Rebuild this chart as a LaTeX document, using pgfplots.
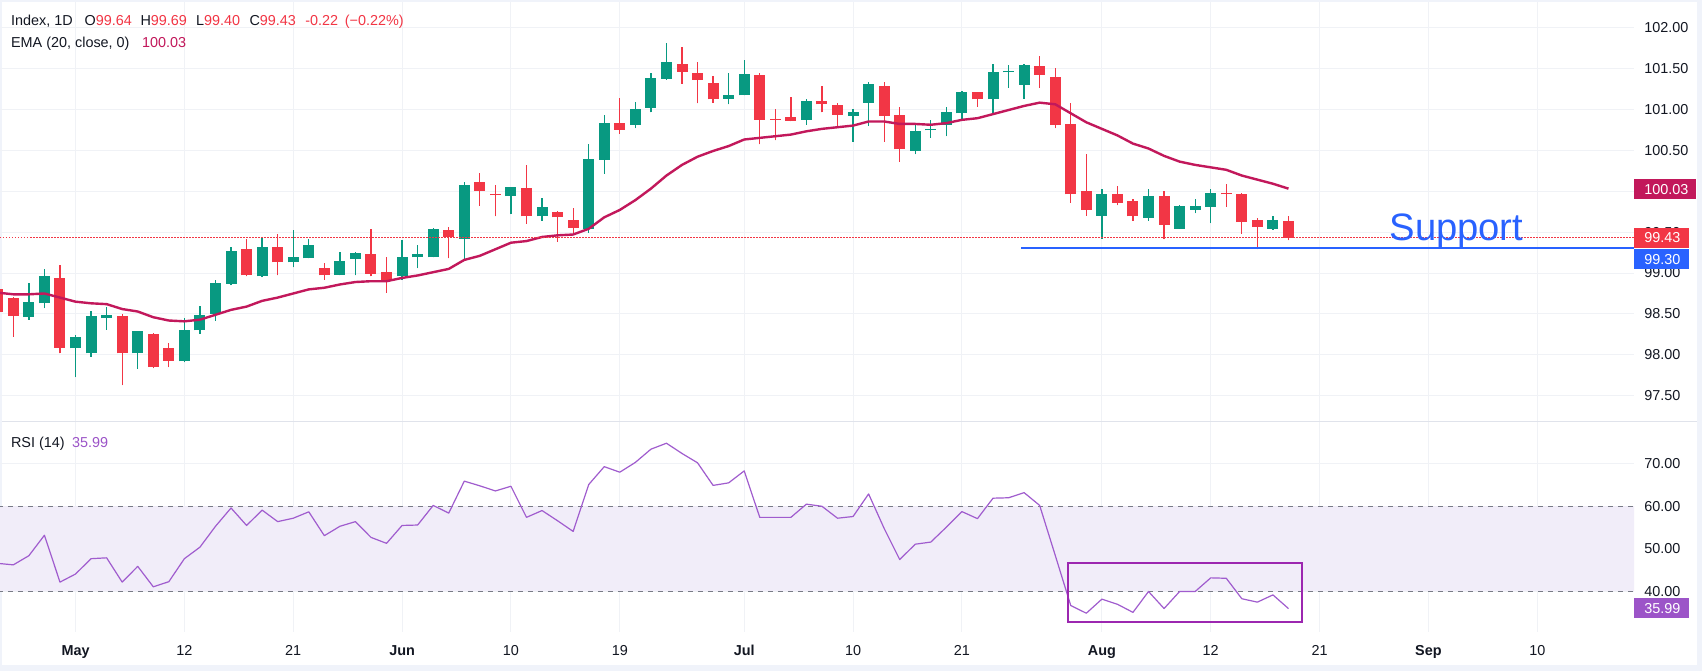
\documentclass[border=0pt]{standalone}
\usepackage{fontspec}
\setmainfont{Liberation Sans}
\usepackage{pgfplots}
\pgfplotsset{compat=1.18}
\usepackage{pgfplotstable}

\definecolor{tvgreen}{RGB}{8,153,129}
\definecolor{tvred}{RGB}{242,54,69}
\definecolor{emac}{RGB}{194,24,91}
\definecolor{tvblue}{RGB}{41,98,255}
\definecolor{rsic}{RGB}{160,92,206}
\definecolor{rsilab}{RGB}{156,84,200}
\definecolor{rsiband}{RGB}{241,237,249}
\definecolor{boxc}{RGB}{156,39,176}
\definecolor{gridc}{RGB}{240,242,246}
\definecolor{txt}{RGB}{19,23,34}
\definecolor{borderc}{RGB}{240,243,250}
\definecolor{sepc}{RGB}{224,227,235}
\definecolor{dashc}{RGB}{120,123,134}

\newcommand{\lf}{\fontsize{7.2}{8.6}\selectfont}

\pgfplotstableread{
i o h l c
-1 98.80 98.85 98.45 98.52
0 98.70 98.71 98.22 98.48
1 98.46 98.88 98.43 98.64
2 98.63 99.05 98.57 98.96
3 98.94 99.10 98.02 98.09
4 98.08 98.24 97.73 98.22
5 98.02 98.54 97.98 98.48
6 98.45 98.58 98.31 98.49
7 98.48 98.50 97.63 98.02
8 98.02 98.29 97.83 98.29
9 98.26 98.27 97.84 97.85
10 98.09 98.15 97.85 97.93
11 97.92 98.45 97.91 98.30
12 98.30 98.60 98.26 98.49
13 98.50 98.91 98.42 98.88
14 98.87 99.32 98.85 99.27
15 99.29 99.42 98.96 98.97
16 98.96 99.43 98.95 99.32
17 99.32 99.48 98.97 99.13
18 99.13 99.52 99.07 99.20
19 99.18 99.41 99.18 99.34
20 99.06 99.12 98.92 98.97
21 98.98 99.26 98.97 99.15
22 99.17 99.26 98.97 99.24
23 99.23 99.54 98.96 98.99
24 99.01 99.19 98.76 98.91
25 98.96 99.40 98.92 99.20
26 99.19 99.34 99.06 99.23
27 99.19 99.55 99.19 99.54
28 99.52 99.56 99.18 99.44
29 99.42 100.11 99.16 100.07
30 100.11 100.22 99.82 100.00
31 99.96 100.07 99.69 99.95
32 99.94 100.05 99.72 100.05
33 100.04 100.32 99.60 99.69
34 99.69 99.92 99.64 99.81
35 99.74 99.76 99.38 99.68
36 99.65 99.79 99.49 99.55
37 99.54 100.57 99.49 100.39
38 100.38 100.93 100.21 100.83
39 100.83 101.14 100.70 100.75
40 100.81 101.09 100.77 101.00
41 101.02 101.44 100.96 101.38
42 101.37 101.81 101.36 101.58
43 101.55 101.76 101.31 101.46
44 101.44 101.58 101.07 101.36
45 101.32 101.41 101.08 101.12
46 101.13 101.44 101.06 101.17
47 101.17 101.60 101.17 101.43
48 101.42 101.44 100.57 100.87
49 100.88 101.00 100.62 100.87
50 100.90 101.15 100.85 100.86
51 100.87 101.12 100.81 101.10
52 101.10 101.28 100.96 101.06
53 101.05 101.08 100.79 100.93
54 100.92 101.00 100.60 100.97
55 101.08 101.33 100.80 101.31
56 101.28 101.33 100.60 100.92
57 100.93 101.03 100.36 100.51
58 100.49 100.82 100.45 100.73
59 100.74 100.87 100.65 100.76
60 100.81 101.03 100.67 100.97
61 100.95 101.22 100.87 101.21
62 101.21 101.21 101.03 101.12
63 101.12 101.55 100.95 101.46
64 101.45 101.54 101.26 101.47
65 101.30 101.55 101.13 101.54
66 101.53 101.65 101.26 101.42
67 101.39 101.50 100.77 100.81
68 100.82 101.08 99.86 99.96
69 100.00 100.45 99.70 99.77
70 99.70 100.03 99.42 99.96
71 99.96 100.06 99.83 99.86
72 99.88 99.90 99.64 99.69
73 99.67 100.03 99.64 99.94
74 99.94 100.00 99.41 99.59
75 99.54 99.83 99.54 99.82
76 99.77 99.90 99.73 99.82
77 99.81 100.03 99.61 99.98
78 99.98 100.09 99.81 99.96
79 99.96 99.98 99.48 99.62
80 99.65 99.67 99.29 99.56
81 99.54 99.70 99.53 99.65
82 99.64 99.69 99.40 99.43
}\candles

\pgfplotstableread{
i e
-1 98.76
0 98.74
1 98.74
2 98.75
3 98.70
4 98.65
5 98.63
6 98.62
7 98.56
8 98.53
9 98.46
10 98.42
11 98.41
12 98.43
13 98.49
14 98.55
15 98.59
16 98.66
17 98.70
18 98.75
19 98.80
20 98.82
21 98.86
22 98.89
23 98.90
24 98.90
25 98.94
26 98.97
27 99.01
28 99.05
29 99.16
30 99.21
31 99.29
32 99.37
33 99.39
34 99.44
35 99.46
36 99.47
37 99.54
38 99.68
39 99.77
40 99.89
41 100.03
42 100.19
43 100.32
44 100.42
45 100.49
46 100.55
47 100.63
48 100.65
49 100.67
50 100.69
51 100.73
52 100.76
53 100.78
54 100.80
55 100.85
56 100.85
57 100.82
58 100.82
59 100.81
60 100.83
61 100.87
62 100.89
63 100.94
64 100.99
65 101.04
66 101.08
67 101.06
68 100.95
69 100.84
70 100.76
71 100.68
72 100.58
73 100.52
74 100.43
75 100.36
76 100.32
77 100.29
78 100.26
79 100.19
80 100.14
81 100.09
82 100.03
}\ema

\pgfplotstableread{
i r
-1 46.6
0 46.25
1 48.4
2 53.2
3 42.2
4 44.1
5 47.7
6 47.9
7 42.2
8 45.9
9 41.1
10 42.3
11 47.7
12 50.4
13 55.3
14 59.6
15 55.5
16 59.1
17 56.4
18 57.2
19 58.7
20 53.1
21 55.3
22 56.4
23 52.7
24 51.3
25 55.5
26 55.6
27 60.2
28 58.4
29 65.9
30 64.8
31 63.6
32 64.7
33 57.4
34 59.0
35 56.6
36 54.1
37 65.1
38 69.3
39 68.0
40 70.3
41 73.4
42 74.8
43 72.4
44 70.2
45 64.9
46 65.5
47 68.3
48 57.4
49 57.4
50 57.4
51 60.5
52 60.0
53 57.2
54 57.6
55 62.9
56 54.8
57 47.5
58 51.1
59 51.6
60 55.1
61 58.75
62 57.1
63 61.9
64 62.0
65 63.2
66 60.2
67 48.5
68 36.7
69 34.9
70 38.2
71 37.0
72 35.1
73 40.0
74 36.0
75 40.0
76 40.0
77 43.2
78 43.1
79 38.3
80 37.5
81 39.2
82 35.99
}\rsi

\pgfplotsset{
  tv/.style={
    scale only axis, width=817pt,
    xmin=-0.857, xmax=104.22,
    axis line style={draw=none},
    major tick length=0pt,
    xmajorgrids, ymajorgrids,
    major grid style={draw=gridc, line width=0.5pt},
    xtick={4,11,18,25,32,39,47,54,61,70,77,84,91,98},
    yticklabel pos=right,
    yticklabel style={anchor=west, inner sep=0pt, xshift=5pt, font=\lf, text=txt},
    /pgf/number format/fixed,
    /pgf/number format/fixed zerofill,
    /pgf/number format/precision=2,
    /pgf/number format/assume math mode=true,
  },
  wick/.style={only marks, mark=*, mark size=0pt, mark options={draw=none, fill=none},
    unbounded coords=discard,
    error bars/.cd, y dir=plus, y explicit, error mark=none,
    error bar style={#1, line width=0.65pt}},
  body/.style={only marks, mark=*, mark size=0pt, mark options={draw=none, fill=none},
    unbounded coords=discard,
    error bars/.cd, y dir=plus, y explicit, error mark=none,
    error bar style={#1, line width=5.5pt}},
}

\begin{document}
\begin{tikzpicture}
\useasboundingbox (0pt,0pt) rectangle (851pt,335.5pt);
\fill[borderc] (0pt,0pt) rectangle (851pt,335.5pt);
\fill[white] (0.75pt,3pt) rectangle (848.5pt,334.5pt);

% ---------------- price panel ----------------
\begin{axis}[tv, at={(0pt,124.75pt)}, anchor=south west, height=209.75pt,
  ymin=97.187, ymax=102.309,
  ytick={97.5,98,98.5,99,99.5,100,100.5,101,101.5,102},
  xticklabels={,,,,,,,,,,,,,},
  xticklabel style={text opacity=0}]
% wicks
\addplot[wick=tvgreen] table[x=i,
  y expr={\thisrow{c}>=\thisrow{o} ? \thisrow{l} : nan},
  y error expr={\thisrow{h}-\thisrow{l}}] {\candles};
\addplot[wick=tvred] table[x=i,
  y expr={\thisrow{c}<\thisrow{o} ? \thisrow{l} : nan},
  y error expr={\thisrow{h}-\thisrow{l}}] {\candles};
% bodies
\addplot[body=tvgreen] table[x=i,
  y expr={\thisrow{c}>=\thisrow{o} ? \thisrow{o} : nan},
  y error expr={max(\thisrow{c}-\thisrow{o},0.013)}] {\candles};
\addplot[body=tvred] table[x=i,
  y expr={\thisrow{c}<\thisrow{o} ? \thisrow{c} : nan},
  y error expr={max(\thisrow{o}-\thisrow{c},0.013)}] {\candles};
% EMA
\addplot[emac, line width=1.2pt, line join=round, mark=none] table[x=i, y=e] {\ema};
% last price dotted line
\addplot[tvred, line width=0.5pt, dash pattern=on 0.75pt off 0.75pt, mark=none]
  coordinates {(-0.857,99.43) (104.22,99.43)};
% support line
\addplot[tvblue, line width=1pt, mark=none] coordinates {(64.8,99.30) (104.22,99.30)};
\node[anchor=base, inner sep=0pt, text=tvblue, font=\fontsize{19.1}{22}\selectfont]
  at (axis cs:92.8,99.395) {Support};
\end{axis}

% ---------------- RSI panel ----------------
\begin{axis}[tv, at={(0pt,19.65pt)}, anchor=south west, height=105.1pt,
  ymin=30.56, ymax=79.9,
  ytick={40,50,60,70},
  xticklabels={\textbf{May},12,21,\textbf{Jun},10,19,\textbf{Jul},10,21,\textbf{Aug},12,21,\textbf{Sep},10},
  xticklabel style={anchor=base, inner sep=0pt, yshift=-11.65pt, font=\lf, text=txt}]
\addplot[draw=none, fill=rsiband, mark=none] coordinates {(-1,40) (-1,60) (105,60) (105,40)} -- cycle;
\addplot[dashc, line width=0.5pt, dash pattern=on 2.5pt off 2.5pt, mark=none] coordinates {(-1,60) (105,60)};
\addplot[dashc, line width=0.5pt, dash pattern=on 2.5pt off 2.5pt, mark=none] coordinates {(-1,40) (105,40)};
\addplot[rsic, line width=0.6pt, line join=round, mark=none] table[x=i, y=r] {\rsi};
\addplot[boxc, line width=1pt, mark=none] coordinates {(67.85,46.7) (82.85,46.7) (82.85,32.9) (67.85,32.9)} -- cycle;
\end{axis}

% panel separator
\draw[sepc, line width=0.75pt] (0.75pt,124.75pt) -- (848.5pt,124.75pt);

% legends
\begin{scope}[every node/.style={anchor=base west, inner sep=0pt, font=\lf, text=txt}]
\node at (5.35pt,322.5pt) {Index, 1D};
\node at (42.1pt,322.5pt) {O\textcolor{tvred}{99.64}};
\node at (70.05pt,322.5pt) {H\textcolor{tvred}{99.69}};
\node at (97.8pt,322.5pt) {L\textcolor{tvred}{99.40}};
\node at (124.55pt,322.5pt) {C\textcolor{tvred}{99.43}};
\node[text=tvred] at (152.5pt,322.5pt) {-0.22};
\node[text=tvred] at (172.2pt,322.5pt) {(−0.22\%)};
\node at (5.35pt,311.85pt) {EMA (20, close, 0)};
\node[text=emac] at (70.8pt,311.85pt) {100.03};
\node at (5.35pt,111.65pt) {RSI (14)};
\node[text=rsilab] at (35.8pt,111.65pt) {35.99};
\end{scope}

% price scale labels
\fill[emac] (817pt,235.85pt) rectangle (848pt,245.85pt);
\node[anchor=west, inner sep=0pt, font=\lf, text=white] at (822pt,240.85pt) {100.03};
\fill[tvred] (817pt,211.65pt) rectangle (844.25pt,221.65pt);
\node[anchor=west, inner sep=0pt, font=\lf, text=white] at (822pt,216.65pt) {99.43};
\fill[tvblue] (817pt,200.85pt) rectangle (844.25pt,210.85pt);
\node[anchor=west, inner sep=0pt, font=\lf, text=white] at (822pt,205.85pt) {99.30};
\fill[rsilab] (817pt,26.35pt) rectangle (844.25pt,36.35pt);
\node[anchor=west, inner sep=0pt, font=\lf, text=white] at (822pt,31.35pt) {35.99};
\end{tikzpicture}
\end{document}
